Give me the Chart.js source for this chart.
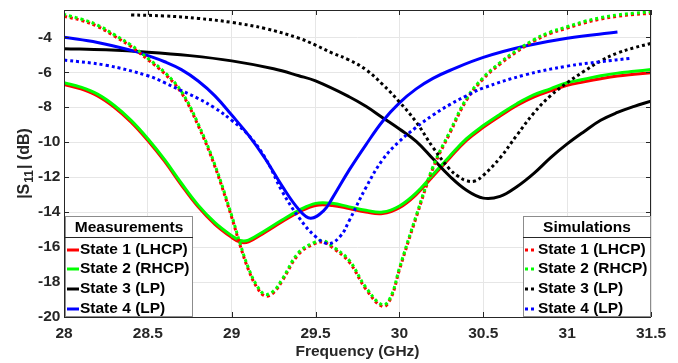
<!DOCTYPE html>
<html>
<head>
<meta charset="utf-8">
<script src="https://cdn.jsdelivr.net/npm/chart.js@4/dist/chart.umd.min.js"></script>
<style>
  html, body { margin: 0; padding: 0; background: #fff; }
  canvas { display: block; }
</style>
</head>
<body>
<canvas id="chart" width="678" height="363"></canvas>
<script>
// measured, states 1 & 2
const measFreq12 = [28.0, 28.1, 28.2, 28.3, 28.4, 28.5, 28.6, 28.7, 28.8, 28.9, 29.0, 29.05, 29.1, 29.2, 29.3, 29.4, 29.5, 29.6, 29.7, 29.8, 29.9, 30.0, 30.1, 30.2, 30.3, 30.4, 30.5, 30.6, 30.7, 30.8, 30.9, 31.0, 31.1, 31.2, 31.3, 31.4, 31.5];
const measState2 = [-6.6, -6.85, -7.25, -7.9, -8.75, -9.8, -11.0, -12.35, -13.6, -14.6, -15.35, -15.62, -15.6, -15.05, -14.45, -13.9, -13.5, -13.5, -13.7, -13.9, -14.0, -13.65, -12.9, -11.85, -10.8, -9.8, -9.05, -8.4, -7.8, -7.3, -6.95, -6.6, -6.4, -6.2, -6.05, -5.95, -5.85];
const measState1 = [-6.7, -6.95, -7.35, -8.0, -8.85, -9.9, -11.1, -12.45, -13.7, -14.7, -15.45, -15.72, -15.7, -15.15, -14.55, -14.0, -13.62, -13.62, -13.8, -14.0, -14.08, -13.75, -13.0, -11.95, -10.9, -9.9, -9.15, -8.5, -7.9, -7.42, -7.07, -6.75, -6.55, -6.37, -6.22, -6.12, -6.03];

// measured, state 3
const measFreq3 = [28.0, 28.25, 28.5, 28.75, 29.0, 29.25, 29.4, 29.5, 29.7, 29.8, 29.9, 30.0, 30.1, 30.2, 30.3, 30.4, 30.5, 30.6, 30.7, 30.8, 30.9, 31.0, 31.1, 31.2, 31.3, 31.4, 31.5];
const measState3 = [-4.65, -4.72, -4.85, -5.05, -5.35, -5.8, -6.2, -6.5, -7.4, -7.95, -8.6, -9.25, -9.95, -10.95, -11.95, -12.75, -13.2, -13.1, -12.55, -11.8, -10.9, -10.1, -9.4, -8.75, -8.3, -7.95, -7.65];

// measured, state 4
const measFreq4 = [28.0, 28.2, 28.4, 28.5, 28.6, 28.7, 28.8, 28.9, 29.0, 29.1, 29.2, 29.3, 29.4, 29.47, 29.55, 29.6, 29.7, 29.8, 29.9, 30.0, 30.1, 30.2, 30.3, 30.5, 30.75, 31.0, 31.3];
const measState4 = [-4.0, -4.3, -4.75, -5.05, -5.4, -5.85, -6.5, -7.35, -8.45, -9.6, -10.95, -12.5, -13.85, -14.35, -13.9, -13.2, -11.6, -10.15, -8.8, -7.75, -6.95, -6.35, -5.9, -5.15, -4.5, -4.05, -3.7];

// simulated, states 1 & 2
const simFreq12 = [28.0, 28.1, 28.2, 28.3, 28.4, 28.5, 28.6, 28.7, 28.8, 28.9, 29.0, 29.05, 29.1, 29.15, 29.2, 29.25, 29.3, 29.4, 29.5, 29.55, 29.6, 29.7, 29.8, 29.9, 29.95, 30.0, 30.1, 30.2, 30.3, 30.4, 30.5, 30.6, 30.7, 30.8, 30.9, 31.0, 31.1, 31.2, 31.3, 31.4, 31.5];
const simState2 = [-2.7, -2.95, -3.3, -3.85, -4.45, -5.2, -6.0, -7.1, -8.95, -11.3, -14.2, -15.8, -17.2, -18.2, -18.7, -18.5, -17.85, -16.3, -15.7, -15.65, -15.95, -16.75, -18.3, -19.3, -18.8, -17.2, -14.2, -11.4, -9.4, -7.5, -6.3, -5.45, -4.75, -4.15, -3.7, -3.4, -3.1, -2.88, -2.72, -2.62, -2.55];
const simState1 = [-2.8, -3.03, -3.38, -3.93, -4.53, -5.28, -6.08, -7.18, -9.05, -11.4, -14.3, -15.9, -17.3, -18.3, -18.8, -18.6, -17.95, -16.4, -15.78, -15.73, -16.03, -16.85, -18.4, -19.4, -18.9, -17.3, -14.3, -11.5, -9.5, -7.6, -6.38, -5.53, -4.83, -4.23, -3.78, -3.48, -3.18, -2.96, -2.8, -2.7, -2.63];

// simulated, state 3
const simFreq3 = [28.4, 28.6, 28.8, 29.0, 29.2, 29.4, 29.5, 29.6, 29.7, 29.8, 29.9, 30.0, 30.1, 30.2, 30.3, 30.35, 30.4, 30.45, 30.5, 30.6, 30.7, 30.8, 30.9, 31.0, 31.1, 31.2, 31.3, 31.4, 31.5];
const simState3 = [-2.72, -2.78, -2.92, -3.15, -3.5, -4.05, -4.45, -4.9, -5.3, -5.85, -6.7, -7.7, -8.85, -10.3, -11.55, -11.95, -12.2, -12.22, -11.9, -10.9, -9.6, -8.35, -7.35, -6.6, -5.95, -5.35, -4.9, -4.6, -4.35];

// simulated, state 4
const simFreq4 = [28.0, 28.25, 28.5, 28.6, 28.7, 28.8, 28.9, 29.0, 29.1, 29.2, 29.3, 29.4, 29.5, 29.58, 29.65, 29.7, 29.8, 29.9, 30.0, 30.1, 30.2, 30.3, 30.4, 30.5, 30.75, 31.0, 31.2, 31.38];
const simState4 = [-5.3, -5.6, -6.2, -6.6, -7.05, -7.5, -8.05, -8.75, -9.6, -10.9, -12.8, -14.3, -15.4, -15.8, -15.35, -14.5, -12.6, -11.0, -9.95, -9.15, -8.45, -7.85, -7.35, -6.9, -6.15, -5.65, -5.4, -5.2];

const stateLabels = ["State 1 (LHCP)", "State 2 (RHCP)", "State 3 (LP)", "State 4 (LP)"];
const stateColors = ["#ff0000", "#00ff00", "#000000", "#0000ff"];

const FONT = '"Liberation Sans", Arial, sans-serif';

function pts(xs, ys) {
  return xs.map((x, i) => ({ x: x, y: ys[i] }));
}

function line(data, color, dotted, order) {
  return {
    data: data,
    borderColor: color,
    borderWidth: 3,
    borderDash: dotted ? [3, 3] : [],
    pointRadius: 0,
    tension: 0.4,
    fill: false,
    order: order,
  };
}

const datasets = [
  line(pts(measFreq12, measState1), stateColors[0], false, 8),
  line(pts(measFreq12, measState2), stateColors[1], false, 7),
  line(pts(measFreq3, measState3), stateColors[2], false, 6),
  line(pts(measFreq4, measState4), stateColors[3], false, 5),
  line(pts(simFreq12, simState1), stateColors[0], true, 4),
  line(pts(simFreq12, simState2), stateColors[1], true, 3),
  line(pts(simFreq3, simState3), stateColors[2], true, 2),
  line(pts(simFreq4, simState4), stateColors[3], true, 1),
];
datasets[5].borderDashOffset = 1;

function drawLegend(ctx, x0, y0, x1, y1, title, dotted) {
  ctx.save();
  ctx.fillStyle = "#fff";
  ctx.fillRect(x0, y0, x1 - x0, y1 - y0);
  ctx.strokeStyle = "#8c8c8c";
  ctx.lineWidth = 1;
  ctx.strokeRect(x0 + 0.5, y0 + 0.5, x1 - x0 - 1, y1 - y0 - 1);
  ctx.strokeStyle = "#262626";
  ctx.beginPath();
  ctx.moveTo(x0, y0 + 21.5);
  ctx.lineTo(x1, y0 + 21.5);
  ctx.stroke();
  ctx.fillStyle = "#000";
  ctx.font = "bold 15.5px " + FONT;
  ctx.textAlign = "center";
  ctx.textBaseline = "middle";
  ctx.fillText(title, (x0 + x1) / 2, y0 + 12);
  ctx.textAlign = "left";
  const rows = [34, 53, 73, 93];
  stateLabels.forEach((lab, i) => {
    const y = y0 + rows[i];
    ctx.strokeStyle = stateColors[i];
    ctx.lineWidth = 3;
    ctx.setLineDash(dotted ? [3, 3] : []);
    ctx.beginPath();
    ctx.moveTo(x0 + 2, y);
    ctx.lineTo(x0 + 14, y);
    ctx.stroke();
    ctx.setLineDash([]);
    ctx.fillStyle = "#000";
    ctx.fillText(lab, x0 + 15, y);
  });
  ctx.restore();
}

const frame = {
  id: "frame",
  afterDatasetsDraw(chart) {
    const ctx = chart.ctx;
    const a = chart.chartArea;
    const xs = chart.scales.x, ys = chart.scales.y;
    ctx.save();
    ctx.strokeStyle = "#262626";
    ctx.lineWidth = 1;
    ctx.strokeRect(a.left + 0.5, a.top + 0.5, a.right - a.left - 1, a.bottom - a.top);
    ctx.beginPath();
    xs.ticks.forEach((t) => {
      const px = Math.round(xs.getPixelForValue(t.value)) + 0.5;
      ctx.moveTo(px, a.top); ctx.lineTo(px, a.top + 5);
      ctx.moveTo(px, a.bottom); ctx.lineTo(px, a.bottom - 5);
    });
    ys.ticks.forEach((t) => {
      const py = Math.round(ys.getPixelForValue(t.value)) + 0.5;
      ctx.moveTo(a.left, py); ctx.lineTo(a.left + 5, py);
      ctx.moveTo(a.right, py); ctx.lineTo(a.right - 5, py);
    });
    ctx.stroke();
    ctx.restore();

    drawLegend(ctx, 65, 216, 193, 317, "Measurements", false);
    drawLegend(ctx, 523, 216, 651, 317, "Simulations", true);

    // axis titles
    ctx.save();
    ctx.fillStyle = "#262626";
    ctx.font = "bold 15.5px " + FONT;
    ctx.textAlign = "center";
    ctx.textBaseline = "middle";
    ctx.fillText("Frequency (GHz)", (a.left + a.right) / 2, 352);

    ctx.translate(29, (a.top + a.bottom) / 2);
    ctx.rotate(-Math.PI / 2);
    ctx.textAlign = "left";
    ctx.textBaseline = "alphabetic";
    const big = "bold 16px " + FONT, small = "bold 12px " + FONT;
    ctx.font = big;
    const w1 = ctx.measureText("|S").width;
    const w3 = ctx.measureText("| (dB)").width;
    ctx.font = small;
    const w2 = ctx.measureText("11").width;
    let x = -(w1 + w2 + w3 + 2) / 2;
    ctx.font = big;
    ctx.fillText("|S", x, 0);
    x += w1 + 1;
    ctx.font = small;
    ctx.fillText("11", x, 4);
    x += w2 + 1;
    ctx.font = big;
    ctx.fillText("| (dB)", x, 0);
    ctx.restore();
  },
};

new Chart(document.getElementById("chart"), {
  type: "line",
  data: { datasets: datasets },
  options: {
    responsive: false,
    animation: false,
    devicePixelRatio: 1,
    layout: { padding: { left: 38, right: 27, top: 10, bottom: 0 } },
    plugins: { legend: { display: false }, tooltip: { enabled: false } },
    scales: {
      x: {
        type: "linear",
        min: 28,
        max: 31.5,
        afterFit: (s) => { s.height = 46; },
        grid: { color: "#e6e6e6", drawTicks: false },
        border: { display: false },
        ticks: {
          stepSize: 0.5,
          padding: 7,
          color: "#262626",
          font: { family: FONT, size: 15.5, weight: "bold" },
          callback: (v) => String(Math.round(v * 10) / 10),
        },
      },
      y: {
        type: "linear",
        min: -20,
        max: -2.44,
        afterFit: (s) => { s.width = 26; },
        grid: { color: "#e6e6e6", drawTicks: false },
        border: { display: false },
        ticks: {
          stepSize: 2,
          includeBounds: false,
          crossAlign: "far",
          padding: 0,
          color: "#262626",
          font: { family: FONT, size: 15.5, weight: "bold" },
          callback: (v) => String(v),
        },
      },
    },
  },
  plugins: [frame],
});
</script>
</body>
</html>
